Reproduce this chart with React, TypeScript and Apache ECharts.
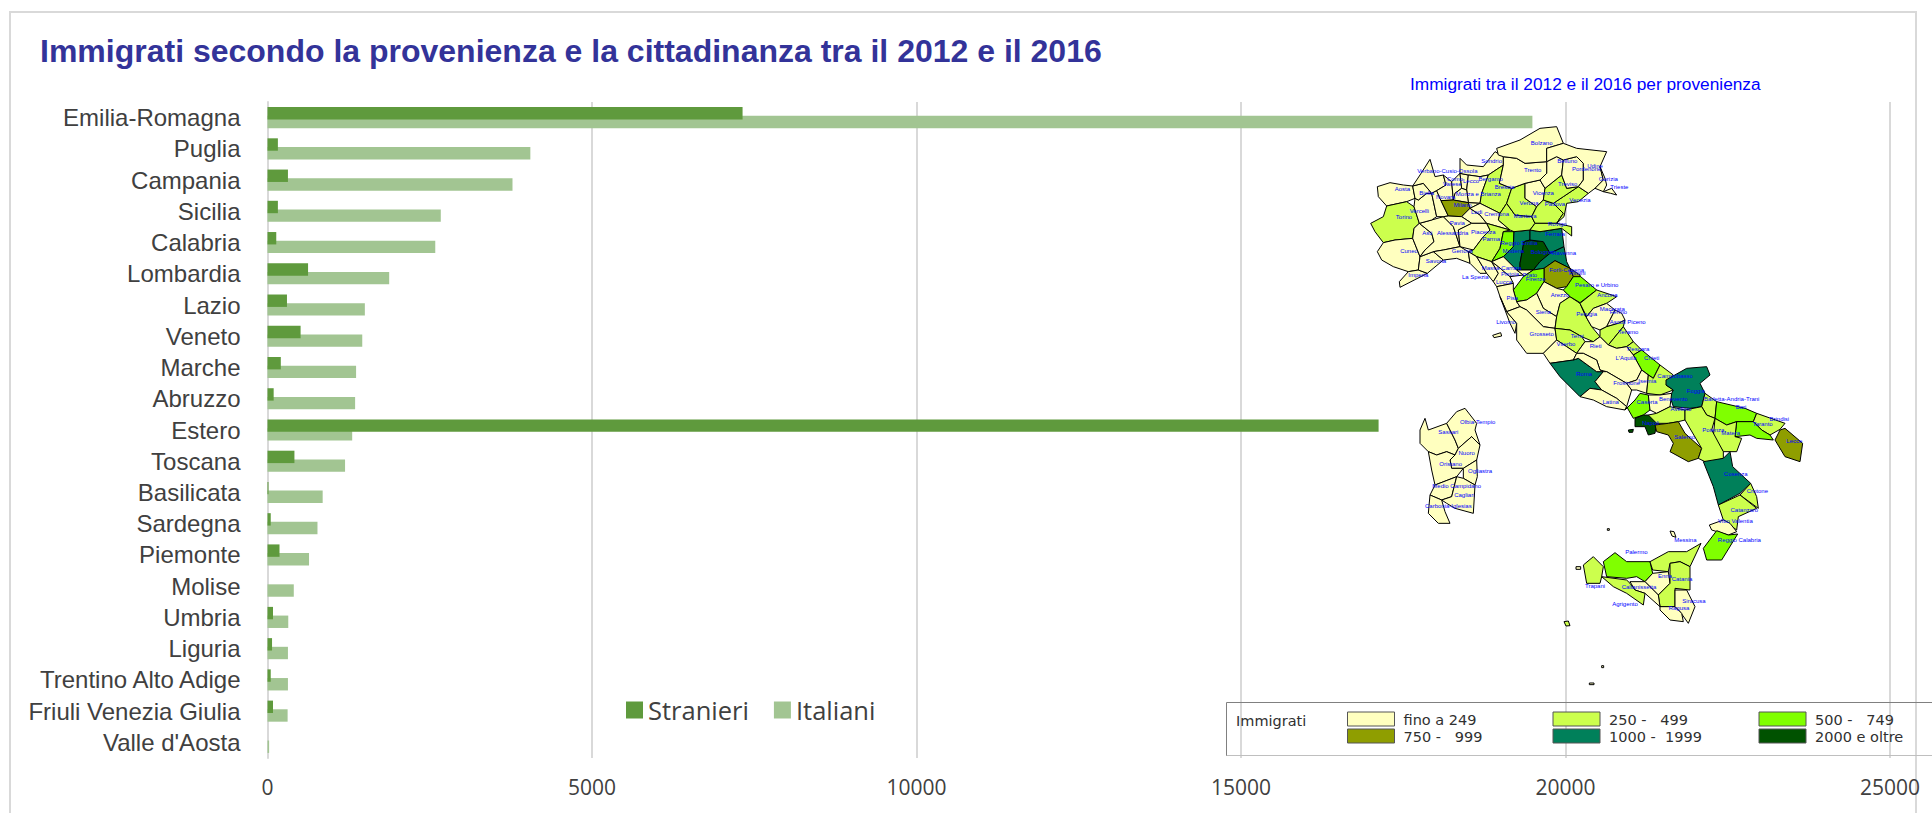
import React, { useEffect, useRef } from "react";
import * as echarts from "echarts";

const titleText = "Immigrati secondo la provenienza e la cittadinanza tra il 2012 e il 2016";
const mapTitleText = "Immigrati tra il 2012 e il 2016 per provenienza";
const categories = ["Emilia-Romagna","Puglia","Campania","Sicilia","Calabria","Lombardia","Lazio","Veneto","Marche","Abruzzo","Estero","Toscana","Basilicata","Sardegna","Piemonte","Molise","Umbria","Liguria","Trentino Alto Adige","Friuli Venezia Giulia","Valle d'Aosta"];
const stranieri = [7320,160,315,160,135,625,300,510,205,95,17120,415,15,50,185,0,85,70,50,85,0];
const italiani = [19490,4050,3775,2670,2585,1875,1500,1460,1365,1350,1305,1195,850,770,640,405,320,315,315,310,25];
const mapClasses = [
  { label: "fino a 249", min: 0, max: 249, color: "#FFFFBF" },
  { label: "250 -   499", min: 250, max: 499, color: "#CCFF4D" },
  { label: "500 -   749", min: 500, max: 749, color: "#80FF00" },
  { label: "750 -   999", min: 750, max: 999, color: "#8F9E00" },
  { label: "1000 -  1999", min: 1000, max: 1999, color: "#00805A" },
  { label: "2000 e oltre", min: 2000, max: 100000, color: "#005200" },
];
const provinceValues: Record<string, number> = {
  "Aosta":25,"Torino":340,"Cuneo":120,"Imperia":60,"Savona":70,"Asti":50,"Alessandria":110,"Vercelli":40,"Biella":45,"Verbano-Cusio-Ossola":50,"Novara":90,"Varese":130,"Como":110,"Lecco":70,"Sondrio":80,"Bergamo":200,"Monza e Brianza":180,"Milano":860,"Brescia":380,"Lodi":60,"Cremona":150,"Pavia":170,"Piacenza":230,"Parma":420,"Reggio Emilia":610,"Modena":1280,"Bologna":3100,"Ferrara":1150,"Ravenna":1400,"Forlì-Cesena":880,"Rimini":790,"Mantova":310,"Verona":390,"Vicenza":230,"Padova":420,"Rovigo":280,"Venezia":330,"Treviso":290,"Belluno":90,"Trento":160,"Bolzano":150,"Pordenone":120,"Udine":160,"Gorizia":40,"Trieste":60,"Genova":170,"La Spezia":70,"Massa-Carrara":90,"Lucca":150,"Pistoia":130,"Prato":100,"Firenze":560,"Arezzo":190,"Pisa":180,"Livorno":120,"Siena":130,"Grosseto":140,"Perugia":270,"Terni":260,"Viterbo":140,"Pesaro e Urbino":520,"Ancona":330,"Macerata":200,"Fermo":120,"Ascoli Piceno":280,"Teramo":350,"Pescara":300,"Chieti":540,"L'Aquila":190,"Roma":1320,"Rieti":70,"Frosinone":220,"Latina":210,"Isernia":90,"Campobasso":320,"Foggia":1210,"Caserta":640,"Benevento":230,"Napoli":2300,"Avellino":470,"Salerno":910,"Barletta-Andria-Trani":420,"Bari":700,"Brindisi":400,"Taranto":580,"Lecce":820,"Matera":380,"Potenza":470,"Cosenza":1240,"Crotone":300,"Catanzaro":440,"Vibo Valentia":200,"Reggio Calabria":680,"Trapani":340,"Palermo":600,"Messina":420,"Enna":90,"Catania":390,"Siracusa":110,"Ragusa":60,"Caltanissetta":120,"Agrigento":300,"Sassari":110,"Olbia-Tempio":50,"Nuoro":60,"Oristano":50,"Ogliastra":20,"Medio Campidano":30,"Cagliari":160,"Carbonia-Iglesias":40,
};
// Outlines: map units, label anchor first, then the ring.
const provinceShapes: Record<string, number[]> = {
  "Aosta":[187,388, 112,380,150,368,190,375,218,378,225,415,200,425,140,438,115,410],
  "Torino":[192,471, 92,490,130,470,140,438,200,425,222,440,238,490,222,505,218,535,165,540,130,548,105,515],
  "Cuneo":[207,572, 112,575,130,548,165,540,218,535,240,590,235,630,205,635,160,620,125,600],
  "Imperia":[235,644, 205,635,235,630,262,640,180,682,178,665],
  "Savona":[288,604, 235,630,240,590,280,575,310,600,262,640],
  "Asti":[262,518, 222,505,238,490,275,520,282,545,255,570,240,590,218,535],
  "Alessandria":[338,518, 275,480,310,470,340,500,360,560,310,570,280,575,240,590,255,570,282,545,275,520,238,490],
  "Vercelli":[238,452, 222,440,225,415,235,420,260,400,275,400,290,470,275,480,238,490],
  "Biella":[260,400, 218,378,250,370,275,400,260,400,235,420,225,415],
  "Verbano-Cusio-Ossola":[322,333, 240,345,270,298,285,350,310,345,318,375,290,392,275,400,250,370,218,378],
  "Novara":[317,410, 275,400,290,392,303,422,325,468,310,470,290,470],
  "Varese":[337,373, 310,345,335,365,340,420,303,422,290,392,318,375],
  "Como":[345,357, 335,365,360,340,365,385,345,400,340,420],
  "Lecco":[393,363, 360,340,385,345,380,390,365,385],
  "Sondrio":[455,302, 360,295,380,315,430,320,465,275,490,290,490,315,445,345,420,350,385,345,360,340],
  "Bergamo":[452,357, 385,345,420,350,445,345,425,400,420,430,385,428,380,390],
  "Monza e Brianza":[415,402, 345,400,365,385,380,390,385,428,340,420],
  "Milano":[368,436, 303,422,340,420,385,428,390,445,365,470,325,468],
  "Brescia":[494,380, 490,315,478,370,515,385,500,430,480,460,420,430,425,400,445,345],
  "Lodi":[410,456, 385,428,420,430,390,445,420,465,440,490,395,490,365,470,390,445],
  "Cremona":[470,463, 420,430,480,460,475,480,510,510,440,490,420,465,390,445],
  "Pavia":[352,490, 310,470,325,468,365,470,395,490,355,510,360,560,340,500],
  "Piacenza":[430,516, 395,490,440,490,450,510,430,530,400,570,360,560,355,510],
  "Parma":[454,538, 450,510,440,490,510,510,490,515,480,565,455,605,410,590,385,575,400,570,430,530],
  "Reggio Emilia":[537,550, 490,515,522,515,520,560,490,590,455,605,480,565],
  "Modena":[520,572, 522,515,570,510,570,540,552,545,540,610,540,630,530,630,490,590,520,560],
  "Bologna":[605,575, 570,540,610,545,630,580,600,605,580,630,540,630,540,610,552,545],
  "Ferrara":[645,522, 570,510,600,515,665,505,672,560,630,580,610,545,570,540],
  "Ravenna":[672,580, 630,580,672,560,680,605,690,625,645,602,612,625,580,630,600,605],
  "Forlì-Cesena":[680,629, 645,602,690,625,700,650,680,680,650,685,612,665,612,625],
  "Rimini":[712,640, 690,625,720,645,722,668,700,650],
  "Mantova":[555,468, 480,460,500,430,525,465,575,470,585,490,570,510,522,515,510,510,475,480],
  "Verona":[567,428, 515,385,555,370,555,415,590,440,575,470,525,465,500,430],
  "Vicenza":[610,398, 555,370,600,360,615,385,610,420,590,440,555,415],
  "Padova":[645,432, 610,420,640,430,670,460,650,490,585,490,575,470,590,440],
  "Rovigo":[652,491, 585,490,650,490,695,500,695,528,665,505,600,515,570,510],
  "Venezia":[720,420, 715,380,745,400,715,425,680,430,672,470,650,490,670,460,640,430,670,410],
  "Treviso":[683,372, 665,345,680,385,715,380,670,410,640,430,610,420,615,385],
  "Belluno":[682,302, 620,305,650,290,670,300,665,345,615,385,600,360,620,340],
  "Trento":[578,330, 490,290,530,295,555,310,620,305,620,340,600,360,555,370,515,385,478,370,490,315],
  "Bolzano":[605,250, 470,265,540,240,600,205,650,200,670,250,620,265,620,305,555,310,530,295,490,290,475,285],
  "Pordenone":[740,328, 670,300,710,290,730,310,730,360,715,380,680,385,665,345],
  "Udine":[765,318, 670,250,710,265,800,275,780,320,790,360,765,385,745,400,715,380,730,360,730,310,710,290,670,300,650,290,620,305,620,265],
  "Gorizia":[805,357, 780,320,795,355,800,375,790,395,765,385,790,360],
  "Trieste":[838,380, 790,395,815,385,830,405,812,400],
  "Genova":[367,574, 280,575,310,570,360,560,385,575,390,610,350,595,310,600],
  "La Spezia":[406,651, 385,575,410,590,440,640,420,640,390,610],
  "Massa-Carrara":[485,625, 410,590,455,605,475,640,460,665,440,640],
  "Lucca":[492,667, 455,605,475,620,510,650,520,670,470,680,460,665,475,640],
  "Pistoia":[510,641, 455,605,490,590,530,630,550,645,510,650,475,620],
  "Prato":[570,645, 530,630,580,630,550,650,550,645],
  "Firenze":[587,657, 580,630,612,625,612,665,590,700,560,720,530,725,520,690,550,650],
  "Arezzo":[660,704, 612,665,650,685,670,690,690,710,660,730,650,770,610,745,590,700],
  "Pisa":[517,714, 470,680,520,670,520,690,530,725,540,740,500,755,480,710],
  "Livorno":[498,787, 480,710,500,755,530,790,525,820,510,790],
  "Siena":[610,755, 530,725,560,720,590,700,610,745,650,770,645,805,610,800,560,750,540,740],
  "Grosseto":[605,822, 500,755,540,740,560,750,610,800,645,805,650,840,610,880,560,880,530,840,530,790],
  "Perugia":[740,761, 660,730,690,710,720,730,735,765,755,800,780,830,760,845,725,830,690,810,645,805,650,770],
  "Terni":[712,828, 645,805,690,810,725,830,735,845,710,880,680,860,650,840],
  "Viterbo":[678,851, 650,840,680,860,710,880,700,900,630,910,610,880],
  "Pesaro e Urbino":[770,676, 680,680,700,650,722,650,770,690,720,728,690,710,670,690],
  "Ancona":[802,704, 770,690,830,710,800,730,760,745,740,770,720,730],
  "Macerata":[817,748, 740,770,760,745,800,730,825,750,800,800,780,810,755,800,735,765],
  "Fermo":[835,757, 800,800,825,750,845,760,855,780,835,790],
  "Ascoli Piceno":[863,787, 780,830,780,810,800,800,835,790,855,780,850,800,805,855],
  "Teramo":[865,817, 805,855,850,800,880,845,860,860,830,865],
  "Pescara":[895,868, 860,860,880,845,905,870,880,885],
  "Chieti":[935,894, 880,885,905,870,960,915,940,955,905,930],
  "L'Aquila":[858,894, 710,880,735,845,760,845,780,830,805,855,830,865,860,860,880,885,905,930,890,960,860,970,800,935,780,930,770,900,730,880],
  "Roma":[732,942, 630,910,700,900,715,895,770,935,790,935,765,965,785,990,750,985,720,1010,660,950],
  "Rieti":[767,858, 710,880,730,880,770,900,780,930,790,935,770,935,715,895,700,900],
  "Frosinone":[860,969, 790,935,800,935,860,970,875,990,860,1040,830,1015,785,990,765,965],
  "Latina":[812,1027, 720,1010,750,985,785,990,830,1015,860,1040,855,1050,800,1040,760,1020],
  "Isernia":[922,962, 860,970,890,960,905,930,925,945,920,1000,890,990,875,990],
  "Campobasso":[1005,949, 940,955,960,915,1000,945,978,975,1000,990,960,1005,920,1000,925,945],
  "Foggia":[1067,992, 978,960,1040,925,1100,920,1110,945,1080,970,1095,1000,1085,1040,1050,1045,1000,1040,990,1010,1000,990,978,975],
  "Caserta":[921,1026, 860,1040,855,1050,885,1020,900,1000,925,1005,930,1050,910,1065,880,1075],
  "Benevento":[1000,1018, 925,1005,960,1005,995,1000,990,1040,950,1060,930,1050],
  "Napoli":[932,1088, 885,1075,910,1065,925,1065,950,1085,945,1120,925,1125,915,1100,885,1100],
  "Avellino":[1023,1048, 950,1060,990,1040,1035,1050,1035,1080,1015,1085,985,1090,950,1090,925,1065],
  "Salerno":[1034,1132, 945,1095,985,1090,1015,1085,1035,1120,1085,1165,1075,1195,1045,1205,990,1175,1000,1150,985,1125,950,1115],
  "Barletta-Andria-Trani":[1175,1016, 1095,1000,1130,1025,1125,1075,1100,1065,1085,1040],
  "Bari":[1203,1042, 1130,1025,1215,1045,1250,1060,1240,1085,1190,1085,1160,1095,1125,1075],
  "Brindisi":[1318,1078, 1250,1060,1335,1090,1320,1108,1290,1125,1265,1110,1240,1085],
  "Taranto":[1268,1092, 1190,1085,1240,1085,1265,1110,1290,1125,1300,1140,1250,1135,1230,1125,1185,1130],
  "Lecce":[1363,1142, 1335,1105,1388,1150,1380,1205,1335,1190,1305,1140,1320,1110],
  "Matera":[1172,1119, 1125,1075,1160,1095,1190,1085,1185,1130,1205,1135,1190,1175,1150,1175,1120,1130],
  "Potenza":[1120,1111, 1035,1080,1035,1050,1085,1040,1100,1065,1125,1075,1115,1110,1150,1175,1150,1195,1105,1210,1075,1195,1085,1165],
  "Cosenza":[1187,1243, 1090,1205,1150,1195,1170,1175,1178,1220,1232,1270,1200,1300,1135,1335,1120,1280],
  "Crotone":[1252,1293, 1232,1270,1250,1310,1255,1345,1200,1305],
  "Catanzaro":[1213,1350, 1135,1335,1200,1305,1250,1345,1195,1370,1190,1410,1150,1380],
  "Vibo Valentia":[1186,1383, 1108,1395,1150,1380,1170,1390,1190,1415,1165,1425,1115,1410],
  "Reggio Calabria":[1198,1440, 1130,1412,1165,1425,1193,1422,1145,1500,1100,1500,1090,1465],
  "Trapani":[765,1578, 730,1515,760,1490,790,1520,785,1550,780,1570,740,1570],
  "Palermo":[889,1476, 790,1505,825,1478,860,1505,930,1505,938,1540,915,1565,890,1550,860,1555,800,1550],
  "Messina":[1036,1440, 930,1505,985,1475,1040,1475,1083,1450,1050,1520,1020,1505,990,1510,985,1535,938,1530],
  "Enna":[975,1547, 915,1565,938,1540,985,1535,990,1570,955,1605,925,1575],
  "Catania":[1026,1557, 990,1510,1020,1505,1050,1520,1050,1590,1005,1585,1005,1640,960,1640,955,1605,990,1570],
  "Siracusa":[1062,1624, 1005,1590,1040,1590,1065,1640,1045,1690,1020,1655,1005,1640],
  "Ragusa":[1017,1643, 960,1640,1005,1640,1025,1660,1030,1685,990,1680,960,1650],
  "Caltanissetta":[897,1581, 870,1565,915,1565,925,1575,955,1605,960,1640,915,1600,885,1590],
  "Agrigento":[855,1633, 785,1550,860,1560,870,1570,885,1590,915,1600,910,1635,860,1600,820,1580],
  "Sassari":[325,1115, 240,1110,255,1075,265,1110,320,1090,345,1140,355,1165,345,1185,320,1175,290,1185,265,1175,240,1150],
  "Olbia-Tempio":[413,1085, 320,1090,350,1055,375,1045,410,1090,405,1110,420,1155,395,1130,355,1165,345,1140],
  "Nuoro":[380,1178, 355,1165,395,1130,420,1155,410,1200,370,1225,335,1225,330,1200,345,1185],
  "Oristano":[332,1213, 265,1175,290,1185,320,1175,345,1185,330,1200,335,1225,370,1225,350,1250,285,1275,275,1230],
  "Ogliastra":[420,1233, 370,1225,410,1200,412,1250,405,1275,370,1255],
  "Medio Campidano":[350,1278, 285,1275,350,1250,335,1310,305,1320,270,1305],
  "Cagliari":[373,1306, 350,1250,370,1255,405,1275,400,1360,345,1345,320,1330,305,1320,335,1310],
  "Carbonia-Iglesias":[325,1337, 270,1305,305,1320,315,1355,330,1390,295,1390,265,1360],
  "isola-elba":[468,825, 458,826,482,818,485,828,462,833],
  "isola-ischia":[872,1112, 865,1110,880,1108,878,1117,867,1117],
  "isola-lampedusa":[680,1690, 672,1685,685,1683,690,1697,678,1698],
  "isola-ustica":[805,1408, 802,1406,808,1406,808,1411,802,1411],
  "isola-egadi":[715,1524, 708,1520,722,1520,722,1528,708,1528],
  "isola-lipari":[998,1422, 990,1413,1002,1415,1008,1432,996,1428],
  "isola-pantelleria":[788,1820, 785,1817,791,1817,791,1823,785,1823],
  "isola-linosa":[755,1871, 748,1869,762,1869,762,1874,748,1874],
};

const provinceNames = Object.keys(provinceShapes);
const xsOf = (r: number[]) => r.filter((_, i) => i >= 2 && i % 2 === 0);
const ysOf = (r: number[]) => r.filter((_, i) => i >= 2 && i % 2 === 1);
const geoJson = {
  type: "FeatureCollection",
  features: provinceNames.map((name) => {
    const r = provinceShapes[name];
    const ring: number[][] = [];
    for (let i = 2; i < r.length; i += 2) ring.push([r[i], r[i + 1]]);
    ring.push([r[2], r[3]]);
    return { type: "Feature", properties: { name, cp: [r[0], r[1]] }, geometry: { type: "Polygon", coordinates: [ring] } };
  }),
};

export default function App() {
  const ref = useRef<HTMLDivElement>(null);
  useEffect(() => {
    document.body.style.margin = "0";
    const chart = echarts.init(ref.current!, undefined, { renderer: "svg" });
    echarts.registerMap("italia", geoJson as any);
    const allX = provinceNames.flatMap((n) => xsOf(provinceShapes[n]));
    const allY = provinceNames.flatMap((n) => ysOf(provinceShapes[n]));
    const minX = Math.min(...allX), maxX = Math.max(...allX), minY = Math.min(...allY), maxY = Math.max(...allY);
    const ink = "#404040";
    const legendCols = [1347.5, 1553, 1759];
    const legendRows = [712, 729];
    chart.setOption({
      animation: false,
      backgroundColor: "#fff",
      title: [
        { text: titleText, left: 35, top: 30, textStyle: { fontFamily: "Liberation Sans", fontSize: 32, fontWeight: "bold", color: "#333399" } },
        { text: mapTitleText, left: 1405, top: 70, textStyle: { fontFamily: "Liberation Sans", fontSize: 17.3, fontWeight: "normal", color: "#0000FF" } },
      ],
      legend: {
        left: 621, top: 692, itemWidth: 17, itemHeight: 17, itemGap: 25, icon: "rect",
        textStyle: { fontFamily: "Open Sans", fontSize: 25.5, color: ink },
        data: ["Stranieri", "Italiani"],
      },
      grid: { left: 267.5, right: 42, top: 102, height: 656 },
      xAxis: {
        type: "value", min: 0, max: 25000, interval: 5000,
        axisLine: { show: false }, axisTick: { show: false },
        axisLabel: { margin: 18, color: ink, fontFamily: "Open Sans", fontSize: 21, formatter: (v: number) => String(v) },
        splitLine: { show: true, lineStyle: { color: "#D9D9D9", width: 2 } },
      },
      yAxis: {
        type: "category", inverse: true, data: categories,
        axisLine: { show: true, lineStyle: { color: "#D9D9D9", width: 2 } }, axisTick: { show: false },
        axisLabel: { interval: 0, margin: 27, color: ink, fontFamily: "Liberation Sans", fontSize: 24 },
      },
      visualMap: {
        show: false, seriesIndex: 2, type: "piecewise",
        pieces: mapClasses.map((c) => ({ min: c.min, max: c.max, color: c.color })),
      },
      series: [
        { name: "Stranieri", type: "bar", data: stranieri, barWidth: 12.4, barGap: "-30%", z: 3, itemStyle: { color: "#5F9A3D" } },
        { name: "Italiani", type: "bar", data: italiani, barWidth: 12.4, z: 2, itemStyle: { color: "#A2C592" } },
        {
          type: "map", map: "italia", silent: true, z: 4, showLegendSymbol: false,
          projection: { project: (p: number[]) => p, unproject: (p: number[]) => p },
          left: 1340 + minX / 3, top: 60 + minY / 3, width: (maxX - minX) / 3, height: (maxY - minY) / 3,
          itemStyle: { borderColor: "#000", borderWidth: 1 },
          label: { show: true, color: "#0000FF", fontSize: 6, fontFamily: "Liberation Sans" },
          data: provinceNames.map((name) => name.startsWith("isola")
            ? { name, value: name === "isola-ischia" ? 2300 : name === "isola-lampedusa" ? 300 : 100, label: { show: false } }
            : { name, value: provinceValues[name] }),
        },
      ],
      graphic: [
        { type: "rect", silent: true, shape: { x: 10, y: 12, width: 1906, height: 830 }, style: { fill: "none", stroke: "#D9D9D9", lineWidth: 2 }, z: 0 },
        { type: "polyline", silent: true, z: 5, shape: { points: [[1226.5, 756], [1226.5, 702.5], [1932, 702.5]] }, style: { fill: "none", stroke: "#808080", lineWidth: 1 } },
        { type: "line", silent: true, z: 5, shape: { x1: 1226.5, y1: 755.5, x2: 1932, y2: 755.5 }, style: { stroke: "#BFBFBF", lineWidth: 1 } },
        { type: "text", x: 1236, y: 713, z: 6, style: { text: "Immigrati", fontFamily: "DejaVu Sans", fontSize: 14.5, fill: "#303030" } },
        ...mapClasses.flatMap((c, i) => {
          const x = legendCols[i % 3], y = legendRows[Math.floor(i / 3)];
          return [
            { type: "rect", silent: true, z: 6, shape: { x, y, width: 47, height: 14 }, style: { fill: c.color, stroke: "#555", lineWidth: 1 } },
            { type: "text", x: x + 56, y, z: 6, style: { text: c.label, fontFamily: "DejaVu Sans", fontSize: 14.5, fill: "#303030" } },
          ];
        }),
      ],
    });
    return () => chart.dispose();
  }, []);
  return <div ref={ref} style={{ position: "absolute", left: 0, top: 0, width: 1932, height: 813 }} />;
}
